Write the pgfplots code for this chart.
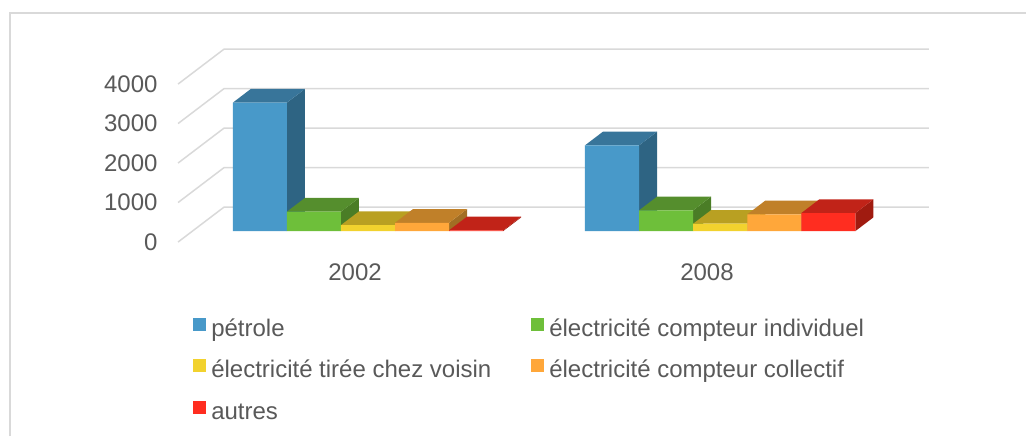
\documentclass[border=0pt]{standalone}
\usepackage{pgfplots}
\pgfplotsset{compat=1.18}
\usepackage{fontspec}
\setmainfont{Liberation Sans}
\definecolor{txt}{HTML}{595959}
\definecolor{gridc}{HTML}{D9D9D9}
\definecolor{bF}{HTML}{4899C9}\definecolor{bT}{HTML}{38759A}\definecolor{bS}{HTML}{2E6483}
\definecolor{gF}{HTML}{6EBF3A}\definecolor{gT}{HTML}{558E2D}\definecolor{gS}{HTML}{4A7D26}
\definecolor{yF}{HTML}{F2D22E}\definecolor{yT}{HTML}{B9A022}\definecolor{yS}{HTML}{A5901E}
\definecolor{oF}{HTML}{FFA73A}\definecolor{oT}{HTML}{C08029}\definecolor{oS}{HTML}{A16E24}
\definecolor{rF}{HTML}{FF2D20}\definecolor{rT}{HTML}{C12318}\definecolor{rS}{HTML}{A01B10}
% depth of a bar: +18 on x (pixels), +347 on y (value units); width 54.1
\newcommand{\barback}[4]{% left edge, value, top colour, side colour
  \pgfmathsetmacro{\xa}{#1+54.1}\pgfmathsetmacro{\xb}{#1+72.1}\pgfmathsetmacro{\xc}{#1+18}
  \pgfmathsetmacro{\yb}{#2+347}
  \addplot[fill=#4,draw=none,forget plot] coordinates {(\xa,0) (\xb,347) (\xb,\yb) (\xa,#2)} -- cycle;
  \addplot[fill=#3,draw=none,forget plot] coordinates {(#1,#2) (\xa,#2) (\xb,\yb) (\xc,\yb)} -- cycle;
}
\begin{document}
\begin{tikzpicture}
\begin{axis}[
  scale only axis, width=1026pt, height=436pt,
  xmin=0, xmax=1026, ymin=-5190, ymax=5848,
  axis line style={draw=none}, major tick length=0pt,
  ytick={0,1000,2000,3000,4000},
  xtick={355,707}, xticklabels={2002,2008},
  ticklabel style={font=\fontsize{24}{26}\selectfont, text=txt},
  /pgf/number format/assume math mode=true,
  /pgf/number format/1000 sep={},
  yticklabel style={anchor=east, xshift=161pt, yshift=-11pt},
  xticklabel style={anchor=center, yshift=164pt},
  legend columns=2,
  legend cell align=left,
  legend style={at={(axis cs:193,-2177)}, anchor=north west, draw=none, fill=none,
    font=\fontsize{24}{26}\selectfont, text=txt, inner sep=0pt, row sep=15.5pt,
    nodes={text height=17pt,text depth=5pt},
    /tikz/every odd column/.append style={column sep=3pt},
    /tikz/every even column/.append style={column sep=38pt}},
  legend image code/.code={\fill[#1,draw=none] (0pt,-0.5pt) rectangle (13pt,12.5pt);},
]
% frame
\addplot[gridc,line width=1.8pt,forget plot] coordinates {(10,-5190) (10,5525) (1026,5525)};
% grid (back wall and left wall)
\addplot[gridc,line width=1.5pt,forget plot] coordinates {(178,-278) (224,607) (929,607)};
\addplot[gridc,line width=1.5pt,forget plot] coordinates {(178,722) (224,1607) (929,1607)};
\addplot[gridc,line width=1.5pt,forget plot] coordinates {(178,1722) (224,2607) (929,2607)};
\addplot[gridc,line width=1.5pt,forget plot] coordinates {(178,2722) (224,3607) (929,3607)};
\addplot[gridc,line width=1.5pt,forget plot] coordinates {(178,3722) (224,4607) (929,4607)};
% petrole
\barback{232.7}{3250}{bT}{bS}\barback{585}{2170}{bT}{bS}
\addplot[ybar,bar width=54.1,bar shift=0pt,fill=bF,draw=none] coordinates {(259.75,3250) (612.05,2170)};
\addlegendentry{pétrole}
% electricite compteur individuel
\barback{286.8}{490}{gT}{gS}\barback{639.1}{525}{gT}{gS}
\addplot[ybar,bar width=54.1,bar shift=0pt,fill=gF,draw=none] coordinates {(313.85,490) (666.15,525)};
\addlegendentry{électricité compteur individuel}
% electricite tiree chez voisin
\barback{340.9}{150}{yT}{yS}\barback{693.2}{185}{yT}{yS}
\addplot[ybar,bar width=54.1,bar shift=0pt,fill=yF,draw=none] coordinates {(367.95,150) (720.25,185)};
\addlegendentry{électricité tirée chez voisin}
% electricite compteur collectif
\barback{395}{210}{oT}{oS}\barback{747.3}{423}{oT}{oS}
\addplot[ybar,bar width=54.1,bar shift=0pt,fill=oF,draw=none] coordinates {(422.05,210) (774.35,423)};
\addlegendentry{électricité compteur collectif}
% autres
\barback{449.1}{20}{rT}{rS}\barback{801.4}{456}{rT}{rS}
\addplot[ybar,bar width=54.1,bar shift=0pt,fill=rF,draw=none] coordinates {(476.15,20) (828.45,456)};
\addlegendentry{autres}
\end{axis}
\end{tikzpicture}
\end{document}
